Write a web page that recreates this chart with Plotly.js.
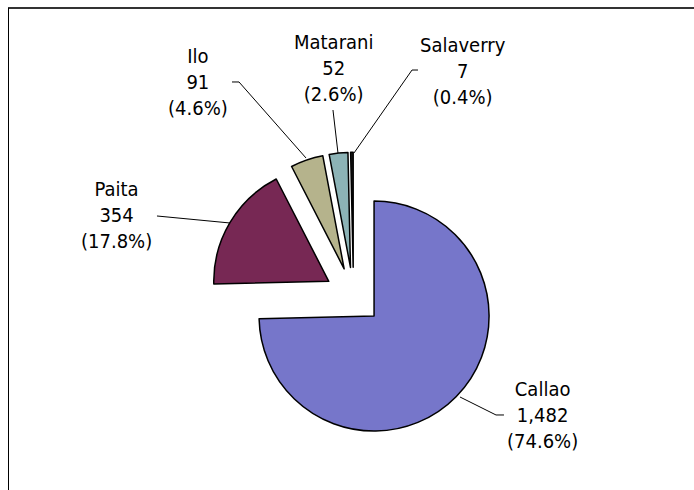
<!DOCTYPE html>
<html>
<head>
<meta charset="utf-8">
<script src="https://cdn.plot.ly/plotly-3.0.1.min.js"></script>
<style>
  html, body { margin: 0; padding: 0; background: #fff; }
  #chart { width: 694px; height: 490px; }
</style>
</head>
<body>
<div id="chart"></div>
<script>
var ports = ['Callao', 'Paita', 'Ilo', 'Matarani', 'Salaverry'];
var counts = [1482, 354, 91, 52, 7];
var sliceColors = ['#7676ca', '#772854', '#b5b38c', '#8cb3b6', '#1c1c1c'];

// label block centres and leader lines, in pixels
var labelPos = [[542, 415], [117, 215], [198, 82], [333, 68], [463, 71]];
var leaders = [
    [[504, 415], [496, 415], [460, 397]],
    [[157, 216], [230, 223]],
    [[232, 82], [239, 82], [306, 158]],
    [[333, 110], [338, 153]],
    [[418, 70], [412, 70], [354, 153]]
];

var W = 694, H = 490;
function px(x) { return x / W; }
function py(y) { return 1 - y / H; }

var total = counts.reduce(function (a, b) { return a + b; }, 0);

var data = [{
    type: 'pie',
    labels: ports,
    values: counts,
    sort: false,
    direction: 'clockwise',
    rotation: 0,
    pull: [0.25, 0.25, 0.25, 0.25, 0.25],
    textinfo: 'none',
    hoverinfo: 'none',
    showlegend: false,
    marker: { colors: sliceColors, line: { color: '#000', width: 1.5 } },
    domain: { x: [0.3022, 0.7165], y: [0.1025, 0.6893] }
}];

var annotations = ports.map(function (p, i) {
    var pct = (counts[i] / total * 100).toFixed(1);
    return {
        xref: 'paper', yref: 'paper',
        x: px(labelPos[i][0]), y: py(labelPos[i][1]),
        xanchor: 'center', yanchor: 'middle',
        text: p + '<br>' + counts[i].toLocaleString('en-US') + '<br>(' + pct + '%)',
        showarrow: false,
        font: { family: 'DejaVu Sans Condensed, DejaVu Sans', size: 20, color: '#000' }
    };
});

var shapes = leaders.map(function (pts) {
    var d = pts.map(function (q, k) {
        return (k ? 'L' : 'M') + px(q[0]).toFixed(4) + ',' + py(q[1]).toFixed(4);
    }).join(' ');
    return { type: 'path', xref: 'paper', yref: 'paper', path: d,
             line: { color: '#000', width: 1 } };
});
// chart frame (top and left edges visible)
shapes.push({ type: 'line', xref: 'paper', yref: 'paper',
    x0: px(8), x1: 1, y0: py(8), y1: py(8), line: { color: '#333', width: 2 } });
shapes.push({ type: 'line', xref: 'paper', yref: 'paper',
    x0: px(8.5), x1: px(8.5), y0: py(8), y1: 0, line: { color: '#000', width: 1 } });

var layout = {
    width: W, height: H,
    margin: { l: 0, r: 0, t: 0, b: 0 },
    paper_bgcolor: '#fff',
    plot_bgcolor: '#fff',
    annotations: annotations,
    shapes: shapes
};

Plotly.newPlot('chart', data, layout, { displayModeBar: false, staticPlot: true });
</script>
</body>
</html>
